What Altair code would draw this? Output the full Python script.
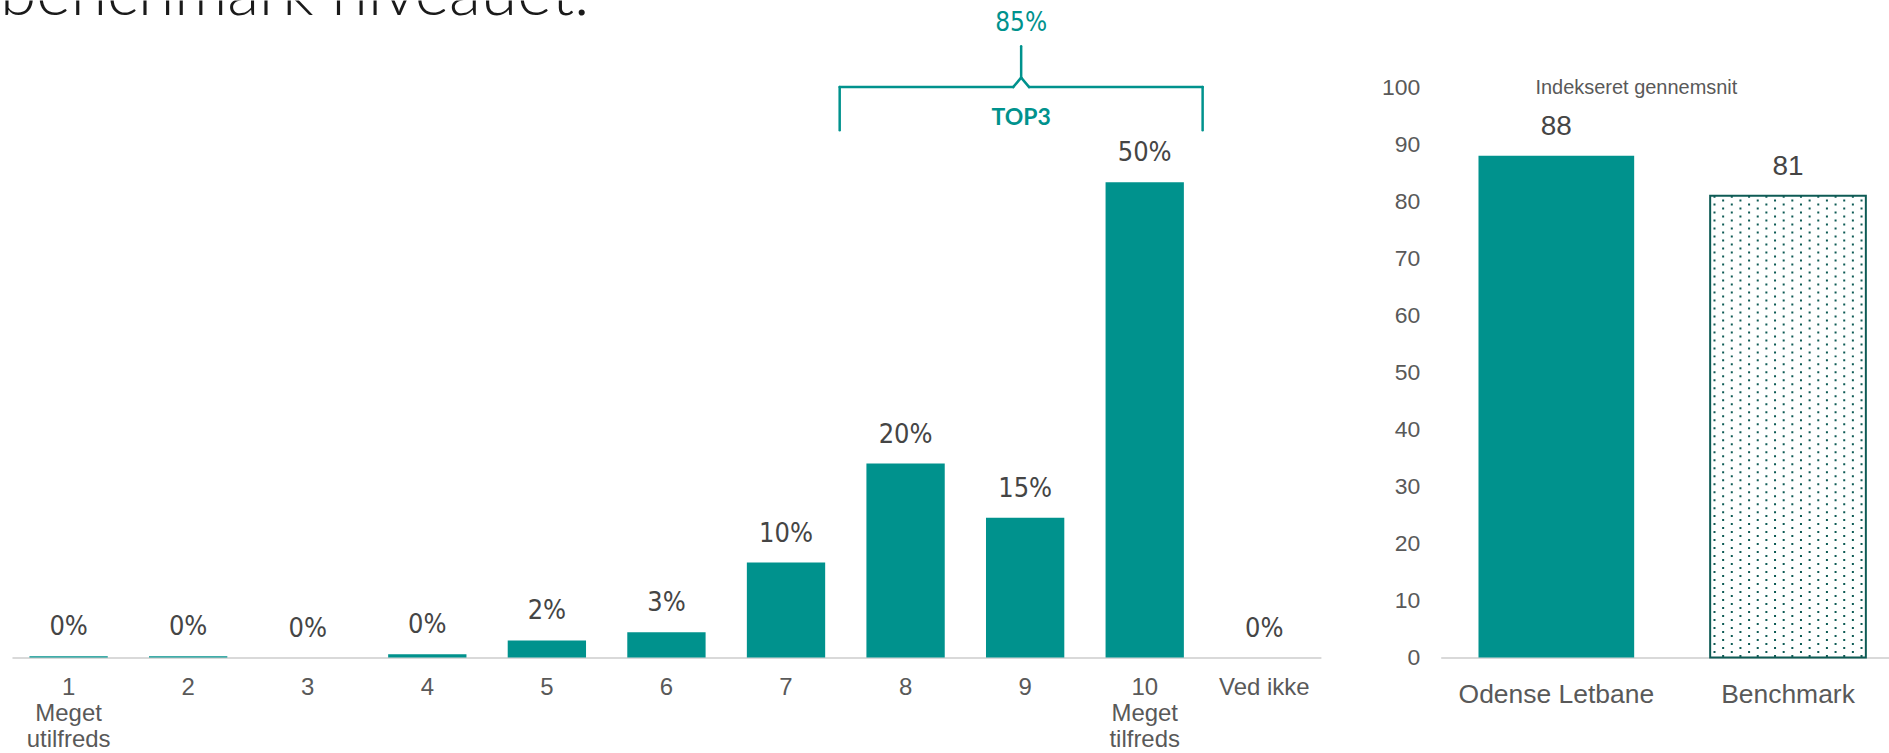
import altair as alt
import pandas as pd

# ---------------- data ----------------
categories = ["1", "2", "3", "4", "5", "6", "7", "8", "9", "10", "Ved ikke"]
shares = [0.15, 0.15, 0.0, 0.35, 1.8, 2.65, 10.0, 20.4, 14.7, 50.0, 0.0]
share_labels = ["0%", "0%", "0%", "0%", "2%", "3%", "10%", "20%", "15%", "50%", "0%"]
end_label_lines = {"1": ["1", "Meget", "utilfreds"], "10": ["10", "Meget", "tilfreds"]}

top3_categories = ["8", "9", "10"]
top3_value_label = "85%"
top3_name = "TOP3"

index_groups = ["Odense Letbane", "Benchmark"]
index_values = [88, 81]
index_title = "Indekseret gennemsnit"
headline = "benchmark niveauet."

# ---------------- style ----------------
TEAL = "#00928D"
DARK_TEAL = "#0E5B55"
VALUE_GREY = "#454545"
AXIS_GREY = "#595959"
BASE_GREY = "#D9D9D9"
NARROW = "Liberation Sans Narrow, DejaVu Sans Condensed, Roboto, sans-serif"
SANS = "Liberation Sans, Arial, sans-serif"

LEFT_W, H = 1325, 658
RIGHT_W = 449
LEFT_YMAX = 69.1
RIGHT_YMAX = 115.2

# band geometry (style)
L_RANGE = (12, 1323)
L_PI, L_PO = 0.345, 0.146
R_PI, R_PO = 0.328, 0.1315
L_STEP = (L_RANGE[1] - L_RANGE[0]) / (len(categories) - L_PI + 2 * L_PO)
L_BAR_W = L_STEP * (1 - L_PI)
R_STEP = RIGHT_W / (len(index_groups) - R_PI + 2 * R_PO)
R_BAR_W = R_STEP * (1 - R_PI)

# bracket levels (in % units of the left scale)
BR_LINE, BR_LEG, BR_CUSP, BR_PEAK, BR_PCT, BR_NAME = 60.0, 55.45, 61.0, 64.3, 66.7, 56.7

dist = pd.DataFrame({"cat": categories, "share": shares, "label": share_labels})

label_expr = " : ".join(
    f"datum.value == '{k}' ? {v!r}" for k, v in end_label_lines.items()
) + " : datum.label"

xs = alt.Scale(type="band", domain=categories, range=list(L_RANGE), paddingInner=L_PI, paddingOuter=L_PO)
ys = alt.Scale(domain=[0, LEFT_YMAX], nice=False, zero=True)

x_axis = alt.Axis(
    title=None, labelAngle=0, ticks=False, domainColor=BASE_GREY, domainWidth=2,
    labelFont=SANS, labelFontSize=24, labelColor=AXIS_GREY, labelPadding=18,
    labelLineHeight=26, labelExpr=label_expr, labelLimit=0,
)

base = alt.Chart(dist)
bars = base.mark_bar(color=TEAL, width=L_BAR_W).encode(
    x=alt.X("cat:N", scale=xs, axis=x_axis),
    y=alt.Y("share:Q", scale=ys, axis=None),
)
vals = base.mark_text(font=NARROW, fontSize=27, color=VALUE_GREY, baseline="alphabetic", dy=-21).encode(
    x=alt.X("cat:N", scale=xs),
    y=alt.Y("share:Q", scale=ys),
    text="label:N",
)

br = pd.DataFrame({
    "start": [top3_categories[0]], "mid": [top3_categories[1]], "end": [top3_categories[-1]],
    "pct": [top3_value_label], "name": [top3_name],
    "y_line": [BR_LINE], "y_leg": [BR_LEG], "y_cusp": [BR_CUSP], "y_peak": [BR_PEAK],
    "y_pct": [BR_PCT], "y_name": [BR_NAME],
})
bc = alt.Chart(br)
rule_kw = dict(color=TEAL, strokeWidth=2.5, strokeCap="round")
br_hl = bc.mark_rule(xOffset=-66, x2Offset=-12, **rule_kw).encode(
    x=alt.X("start:N", scale=xs), x2="mid:N", y=alt.Y("y_line:Q", scale=ys))
br_hr = bc.mark_rule(xOffset=4, x2Offset=58, **rule_kw).encode(
    x=alt.X("mid:N", scale=xs), x2="end:N", y=alt.Y("y_line:Q", scale=ys))
br_cl = bc.mark_rule(xOffset=-12, x2Offset=-4, **rule_kw).encode(
    x=alt.X("mid:N", scale=xs), x2="mid:N", y=alt.Y("y_line:Q", scale=ys), y2="y_cusp:Q")
br_cr = bc.mark_rule(xOffset=4, x2Offset=-4, **rule_kw).encode(
    x=alt.X("mid:N", scale=xs), x2="mid:N", y=alt.Y("y_line:Q", scale=ys), y2="y_cusp:Q")
br_l = bc.mark_rule(xOffset=-66, **rule_kw).encode(
    x=alt.X("start:N", scale=xs), y=alt.Y("y_line:Q", scale=ys), y2="y_leg:Q")
br_r = bc.mark_rule(xOffset=58, **rule_kw).encode(
    x=alt.X("end:N", scale=xs), y=alt.Y("y_line:Q", scale=ys), y2="y_leg:Q")
br_c = bc.mark_rule(xOffset=-4, **rule_kw).encode(
    x=alt.X("mid:N", scale=xs), y=alt.Y("y_cusp:Q", scale=ys), y2="y_peak:Q")
br_pct = bc.mark_text(font=NARROW, fontSize=26, color=TEAL, baseline="middle", dx=-4).encode(
    x=alt.X("mid:N", scale=xs), y=alt.Y("y_pct:Q", scale=ys), text="pct:N")
br_name = bc.mark_text(font="Lato, sans-serif", fontWeight="bold", fontSize=23, color=TEAL,
                       baseline="middle", dx=-4).encode(
    x=alt.X("mid:N", scale=xs), y=alt.Y("y_name:Q", scale=ys), text="name:N")

head = alt.Chart(pd.DataFrame({"t": [headline]})).mark_text(
    font="Lato, sans-serif", fontWeight=300, fontSize=66, color="#1a1a1a",
    align="left", baseline="alphabetic", clip=True,
).encode(text="t:N", x=alt.value(0), y=alt.value(14))

left = alt.layer(bars, vals, br_hl, br_hr, br_cl, br_cr, br_l, br_r, br_c, br_pct, br_name, head).properties(
    width=LEFT_W, height=H)

# ---------------- right chart ----------------
idx = pd.DataFrame({"group": index_groups, "value": index_values})
rx = alt.Scale(type="band", domain=index_groups, paddingInner=R_PI, paddingOuter=R_PO, align=0.62)
ry = alt.Scale(domain=[0, RIGHT_YMAX], nice=False, zero=True)
rx_axis = alt.Axis(title=None, labelAngle=0, ticks=False, domainColor=BASE_GREY, domainWidth=2,
                   labelFont=SANS, labelFontSize=26.5, labelColor=AXIS_GREY, labelPadding=24,
                   labelLimit=0)
ry_axis = alt.Axis(title=None, values=list(range(0, 101, 10)), domain=False, ticks=False, grid=False,
                   labelFont=SANS, labelFontSize=23, labelColor=AXIS_GREY, labelPadding=21)

rb = alt.Chart(idx)
odense = rb.transform_filter(alt.datum.group == index_groups[0]).mark_bar(
    color=TEAL, width=R_BAR_W).encode(
    x=alt.X("group:N", scale=rx, axis=rx_axis), y=alt.Y("value:Q", scale=ry, axis=ry_axis))
bench = rb.transform_filter(alt.datum.group == index_groups[1]).mark_bar(
    fill="white", stroke=DARK_TEAL, strokeWidth=2, width=R_BAR_W).encode(
    x=alt.X("group:N", scale=rx), y=alt.Y("value:Q", scale=ry))


def dots(parity, offset):
    return (
        rb.transform_filter(alt.datum.group == index_groups[1])
        .transform_calculate(col="sequence(0, 18)")
        .transform_flatten(["col"])
        .transform_filter(f"datum.col % 2 == {parity}")
        .mark_rule(color=DARK_TEAL, strokeWidth=2, strokeDash=[2, 6], strokeDashOffset=offset)
        .encode(
            x=alt.X("group:N", scale=rx),
            xOffset=alt.XOffset("col:Q", scale=alt.Scale(domain=[-0.5, 17.5])),
            y=alt.Y("value:Q", scale=ry),
            y2=alt.datum(0),
        )
    )


rvals = rb.mark_text(font=SANS, fontSize=28, color=VALUE_GREY, baseline="alphabetic", dy=-21).encode(
    x=alt.X("group:N", scale=rx), y=alt.Y("value:Q", scale=ry), text="value:Q")
rtitle = alt.Chart(pd.DataFrame({"t": [index_title]})).mark_text(
    font=SANS, fontSize=20, color=AXIS_GREY, baseline="alphabetic", dy=7).encode(
    text="t:N", x=alt.value(196), y=alt.datum(100))

right = alt.layer(odense, bench, dots(0, 0), dots(1, 4), rvals, rtitle).properties(
    width=RIGHT_W, height=H)

chart = alt.hconcat(left, right, spacing=58).properties(
    padding={"left": 0, "top": 0, "right": 0, "bottom": 0}, background="white"
).configure_view(stroke=None)

chart.save("out.html", embed_options={"renderer": "svg", "actions": False})
